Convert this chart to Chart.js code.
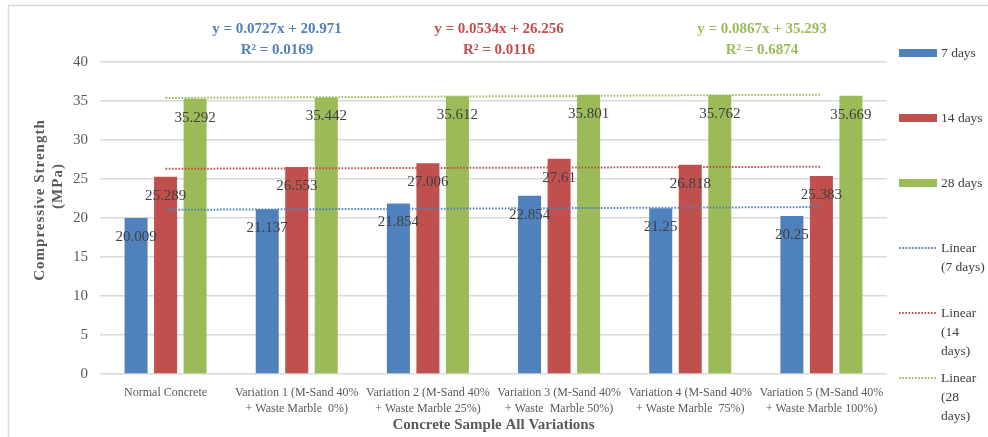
<!DOCTYPE html>
<html>
<head>
<meta charset="utf-8">
<script src="https://cdn.jsdelivr.net/npm/chart.js@4.4.1/dist/chart.umd.min.js"></script>
<style>
  html, body { margin: 0; padding: 0; background: #ffffff; }
  #wrap { width: 988px; height: 437px; position: relative; }
</style>
</head>
<body>
<div id="wrap"><canvas id="chart" width="988" height="437"></canvas></div>
<script>
// Concrete samples on the x axis
const categories = [
  ["Normal Concrete"],
  ["Variation 1 (M-Sand 40%", "+ Waste Marble  0%)"],
  ["Variation 2 (M-Sand 40%", "+ Waste Marble 25%)"],
  ["Variation 3 (M-Sand 40%", "+ Waste  Marble 50%)"],
  ["Variation 4 (M-Sand 40%", "+ Waste Marble  75%)"],
  ["Variation 5 (M-Sand 40%", "+ Waste Marble 100%)"]
];

// Compressive strength (MPa) by curing age
const strength7 = [20.009, 21.137, 21.854, 22.854, 21.25, 20.25];
const strength14 = [25.289, 26.553, 27.006, 27.61, 26.818, 25.383];
const strength28 = [35.292, 35.442, 35.612, 35.801, 35.762, 35.669];

// Linear trend lines: values at the first and last sample
const trend7 = [21.044, null, null, null, null, 21.407];
const trend14 = [26.309, null, null, null, null, 26.576];
const trend28 = [35.380, null, null, null, null, 35.813];

// Trend equations shown above the plot
const equation7 = ["y = 0.0727x + 20.971", "R\u00B2 = 0.0169"];
const equation14 = ["y = 0.0534x + 26.256", "R\u00B2 = 0.0116"];
const equation28 = ["y = 0.0867x + 35.293", "R\u00B2 = 0.6874"];

// Value axis
const yMin = 0;
const yMax = 40;
const yStep = 5;

// Legend text, one entry per dataset, wrapped as drawn
const legendLines = [
  ["7 days"], ["14 days"], ["28 days"],
  ["Linear", "(7 days)"], ["Linear", "(14", "days)"], ["Linear", "(28", "days)"]
];

const yTitle = ["Compressive Strength", "(MPa)"];
const xTitle = "Concrete Sample All Variations";

const BLUE = "#4F81BD";
const RED = "#C0504D";
const GREEN = "#9BBB59";
const SERIF = "'Liberation Serif', 'Times New Roman', serif";

const decor = {
  id: "decor",
  beforeDraw(chart) {
    const ctx = chart.ctx;
    ctx.save();
    ctx.strokeStyle = "#D9D9D9";
    ctx.lineWidth = 1.5;
    ctx.beginPath();
    ctx.moveTo(8.5, chart.height + 5);
    ctx.lineTo(8.5, 5.5);
    ctx.lineTo(chart.width + 5, 5.5);
    ctx.stroke();
    ctx.restore();
  },
  afterDatasetsDraw(chart) {
    const ctx = chart.ctx;
    ctx.save();
    ctx.font = "15px " + SERIF;
    ctx.fillStyle = "#404040";
    ctx.textAlign = "center";
    ctx.textBaseline = "middle";
    chart.data.datasets.forEach((ds, di) => {
      if (ds.type === "line") return;
      const meta = chart.getDatasetMeta(di);
      meta.data.forEach((bar, i) => {
        ctx.fillText(String(ds.data[i]), bar.x, bar.y + 19);
      });
    });
    ctx.restore();
  },
  afterDraw(chart) {
    const ctx = chart.ctx;
    const area = chart.chartArea;
    ctx.save();

    // Trend equations
    ctx.font = "bold 15px " + SERIF;
    ctx.textAlign = "center";
    ctx.textBaseline = "middle";
    [[equation7, BLUE, 277], [equation14, RED, 499], [equation28, GREEN, 762]].forEach(([lines, color, x]) => {
      ctx.fillStyle = color;
      lines.forEach((t, j) => ctx.fillText(t, x, 29 + j * 21));
    });

    // Axis titles
    ctx.fillStyle = "#595959";
    ctx.font = "bold 15px " + SERIF;
    ctx.fillText(xTitle, (area.left + area.right) / 2, 425);
    ctx.save();
    ctx.translate(40, 200);
    ctx.rotate(-Math.PI / 2);
    ctx.letterSpacing = "1px";
    ctx.fillText(yTitle[0], 0, 0);
    ctx.restore();
    ctx.save();
    ctx.translate(58, 186);
    ctx.rotate(-Math.PI / 2);
    ctx.letterSpacing = "1px";
    ctx.fillText(yTitle[1], 0, 0);
    ctx.restore();

    // Legend
    ctx.font = "13.5px " + SERIF;
    ctx.textAlign = "left";
    chart.data.datasets.forEach((ds, i) => {
      const y = 53 + 65 * i;
      if (ds.type === "line") {
        ctx.strokeStyle = ds.borderColor;
        ctx.lineWidth = 1.8;
        ctx.setLineDash([1.6, 1.6]);
        ctx.beginPath();
        ctx.moveTo(899, y);
        ctx.lineTo(937, y);
        ctx.stroke();
        ctx.setLineDash([]);
      } else {
        ctx.fillStyle = ds.backgroundColor;
        ctx.fillRect(899, y - 4, 38, 8);
      }
      ctx.fillStyle = "#404040";
      legendLines[i].forEach((t, j) => ctx.fillText(t, 941, y + j * 19));
    });
    ctx.restore();
  }
};

const trendStyle = (color) => ({
  type: "line",
  borderColor: color,
  backgroundColor: color,
  borderWidth: 2,
  borderDash: [1.6, 1.6],
  pointRadius: 0,
  pointHoverRadius: 0,
  spanGaps: true,
  fill: false,
  tension: 0,
  order: 1
});

new Chart(document.getElementById("chart"), {
  type: "bar",
  data: {
    labels: categories,
    datasets: [
      { label: "7 days", data: strength7, backgroundColor: BLUE, order: 2 },
      { label: "14 days", data: strength14, backgroundColor: RED, order: 2 },
      { label: "28 days", data: strength28, backgroundColor: GREEN, order: 2 },
      Object.assign({ label: "Linear (7 days)", data: trend7 }, trendStyle(BLUE)),
      Object.assign({ label: "Linear (14 days)", data: trend14 }, trendStyle(RED)),
      Object.assign({ label: "Linear (28 days)", data: trend28 }, trendStyle(GREEN))
    ]
  },
  options: {
    responsive: false,
    animation: false,
    events: [],
    layout: { padding: { left: 0, top: 62, right: 101, bottom: 0 } },
    datasets: {
      bar: { categoryPercentage: 0.675, barPercentage: 0.78, grouped: true }
    },
    plugins: {
      legend: { display: false },
      tooltip: { enabled: false },
      title: { display: false }
    },
    scales: {
      x: {
        grid: { display: false, drawTicks: false },
        border: { display: false },
        ticks: {
          color: "#595959",
          font: { family: SERIF, size: 12, lineHeight: 16 / 12 },
          padding: 11,
          maxRotation: 0,
          minRotation: 0,
          autoSkip: false
        },
        afterFit(scale) { scale.height = 63; }
      },
      y: {
        min: yMin,
        max: yMax,
        grid: { color: "#D9D9D9", lineWidth: 1.5, drawTicks: false },
        border: { display: false },
        ticks: {
          stepSize: yStep,
          color: "#595959",
          font: { family: SERIF, size: 15 },
          padding: 12
        },
        afterFit(scale) { scale.width = 100; }
      }
    }
  },
  plugins: [decor]
});
</script>
</body>
</html>
